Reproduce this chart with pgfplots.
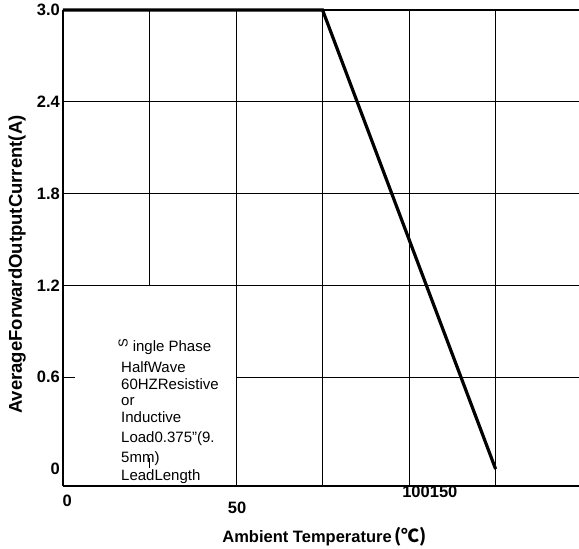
\documentclass[border=0pt]{standalone}
\usepackage{fontspec}
\setmainfont{Liberation Sans}
\newfontfamily\cjk{Noto Sans CJK SC}
\usepackage{pgfplots}
\pgfplotsset{compat=1.18}
\newcommand\tickfont{\fontsize{16.5}{16.5}\selectfont\bfseries}
\newcommand\notefont{\fontsize{15}{18}\selectfont}
\begin{document}
\begin{tikzpicture}
\begin{axis}[
  scale only axis,
  width=516pt, height=476pt,
  xmin=0, xmax=149.1,
  ymin=-0.111, ymax=3.0,
  axis x line=bottom, axis y line=left,
  axis line style={-, line width=1.2pt},
  xtick=\empty,
  ytick={0,0.6,1.2,1.8,2.4,3.0},
  yticklabels={0,0.6,1.2,1.8,2.4,\raisebox{-5pt}{3.0}},
  major tick length=0pt,
  yticklabel style={font=\tickfont, inner sep=0pt, xshift=-3pt},
  ylabel={AverageForwardOutputCurrent(A)},
  ylabel style={font=\fontsize{18.5}{18.5}\selectfont\bfseries, at={(axis description cs:-0.089,0.465)}, anchor=center},
  xlabel={Ambient Temperature\,{\fontsize{18}{18}\selectfont\cjk(℃)}},
  xlabel style={font=\fontsize{16.5}{16.5}\selectfont\bfseries, at={(axis description cs:0.507,-0.107)}, anchor=center},
  clip=false,
]
% grid, drawn piece by piece as in the original
\draw[line width=1.2pt] (axis cs:0,3.0) -- (axis cs:149.1,3.0);
\draw[line width=1.2pt] (axis cs:0,2.4) -- (axis cs:149.1,2.4);
\draw[line width=1.2pt] (axis cs:0,1.8) -- (axis cs:149.1,1.8);
\draw[line width=1.2pt] (axis cs:0,1.2) -- (axis cs:149.1,1.2);
\draw[line width=1.2pt] (axis cs:0,0.6) -- (axis cs:3.5,0.6);
\draw[line width=1.2pt] (axis cs:50,0.6) -- (axis cs:149.1,0.6);
\draw[line width=1.2pt] (axis cs:25,1.2) -- (axis cs:25,3.0);
\draw[line width=1.2pt] (axis cs:25,0.007) -- (axis cs:25,0.072);
\draw[line width=1.2pt] (axis cs:50.14,-0.111) -- (axis cs:50.14,3.0);
\draw[line width=1.2pt] (axis cs:75,-0.111) -- (axis cs:75,3.0);
\draw[line width=1.2pt] (axis cs:100.14,-0.111) -- (axis cs:100.14,3.0);
\draw[line width=1.2pt] (axis cs:125,-0.111) -- (axis cs:125,3.0);
% derating curve
\addplot[line width=3.2pt, black, mark=none] coordinates {(0,3.0) (75,3.0) (125,0)};
% x tick labels
\node[font=\tickfont, yshift=-15pt] at (axis cs:1.2,-0.111) {0};
\node[font=\tickfont, yshift=-22pt] at (axis cs:50.3,-0.111) {50};
\node[font=\tickfont, yshift=-6pt] at (axis cs:106,-0.111) {100150};
% note
\node[rotate=90, font=\fontsize{13}{13}\selectfont, inner sep=0pt] at (axis cs:17.4,0.82) {S};
\node[font=\notefont, anchor=base west, inner sep=0pt] at (axis cs:20.1,0.767) {ingle Phase};
\node[font=\notefont, anchor=base west, inner sep=0pt] at (axis cs:16.76,0.629) {HalfWave};
\node[font=\notefont, anchor=base west, inner sep=0pt] at (axis cs:16.76,0.521) {60HZResistive};
\node[font=\notefont, anchor=base west, inner sep=0pt] at (axis cs:16.76,0.418) {or};
\node[font=\notefont, anchor=base west, inner sep=0pt] at (axis cs:16.76,0.303) {Inductive};
\node[font=\notefont, anchor=base west, inner sep=0pt] at (axis cs:16.76,0.172) {Load0.375"(9.};
\node[font=\notefont, anchor=base west, inner sep=0pt] at (axis cs:16.76,0.044) {5mm)};
\node[font=\notefont, anchor=base west, inner sep=0pt] at (axis cs:16.76,-0.076) {LeadLength};
\end{axis}
\pgfresetboundingbox
\path (-63pt,-63pt) rectangle (516pt,486pt);
\end{tikzpicture}
\end{document}
